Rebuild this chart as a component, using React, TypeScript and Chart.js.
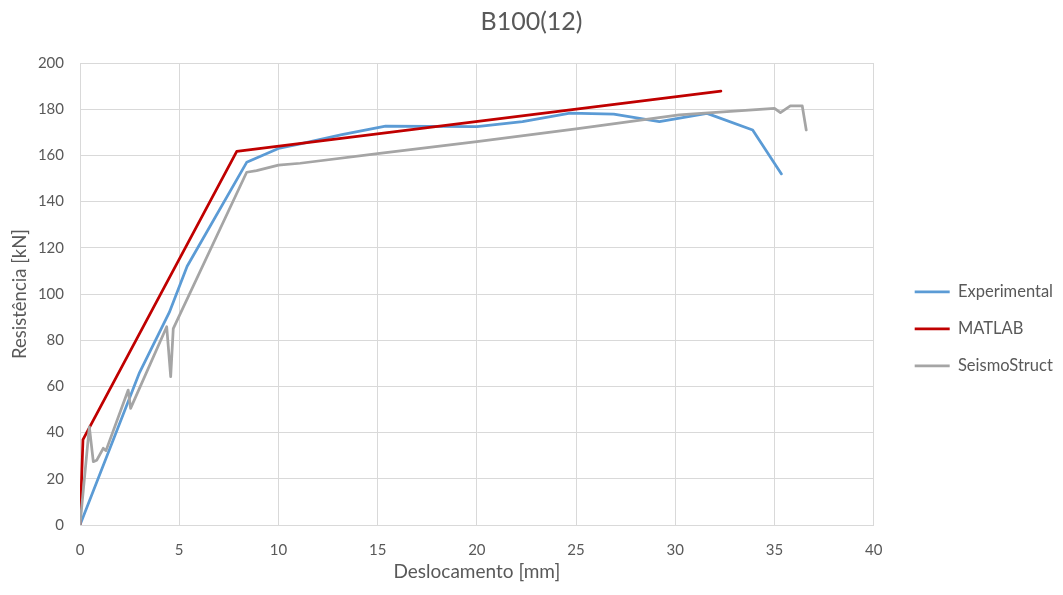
import React, { useEffect, useRef } from "react";
import { Chart, registerables } from "chart.js";

Chart.register(...registerables);

const chartTitle = "B100(12)";
const xAxisTitle = "Deslocamento [mm]";
const yAxisTitle = "Resistência [kN]";
const seriesNames = ["Experimental", "MATLAB", "SeismoStruct"];

const expX = [0, 3.0, 4.5, 5.4, 8.4, 10.0, 11.1, 13.2, 15.4, 20.0, 22.3, 24.7, 26.9, 29.2, 31.6, 33.9, 35.35];
const expY = [0, 66, 92, 112, 157, 163, 165, 169, 172.7, 172.5, 174.6, 178.3, 177.9, 174.6, 178.2, 171, 152];

const matX = [0, 0.15, 7.9, 32.3];
const matY = [0, 37, 161.7, 187.8];

const seiX = [0, 0.47, 0.67, 0.84, 1.17, 1.31, 2.43, 2.55, 4.37, 4.57, 4.7, 8.4, 8.9, 10.0, 11.1, 15.1, 20, 25, 30.2, 35.0, 35.3, 35.8, 36.4, 36.6];
const seiY = [0, 42.5, 27.4, 28, 33.2, 32.2, 58.4, 50.5, 85.8, 64.2, 85, 152.7, 153.4, 155.8, 156.6, 160.9, 166, 171.5, 177.5, 180.4, 178.5, 181.4, 181.4, 171];

const xTicks = [0, 5, 10, 15, 20, 25, 30, 35, 40];
const yTicks = [0, 20, 40, 60, 80, 100, 120, 140, 160, 180, 200];

const colors = ["#5B9BD5", "#C00000", "#A5A5A5"];

const toPts = (xs: number[], ys: number[]) => xs.map((x, i) => ({ x, y: ys[i] }));

export default function App() {
  const ref = useRef<HTMLCanvasElement | null>(null);
  useEffect(() => {
    if (!ref.current) return;
    const font = 'Lato, "Open Sans", sans-serif';
    Chart.defaults.font.family = font;
    Chart.defaults.color = "#595959";
    const series = [toPts(expX, expY), toPts(matX, matY), toPts(seiX, seiY)];
    const chart = new Chart(ref.current, {
      type: "scatter",
      data: {
        datasets: series.map((d, i) => ({
          label: seriesNames[i],
          data: d,
          showLine: true,
          borderColor: colors[i],
          backgroundColor: colors[i],
          borderWidth: 2.75,
          pointRadius: 0,
          pointHoverRadius: 0,
          tension: 0,
          borderJoinStyle: "round",
          borderCapStyle: "round",
          order: 2 - i,
        })),
      },
      options: {
        animation: false,
        responsive: true,
        maintainAspectRatio: false,
        layout: { padding: 0 },
        plugins: {
          tooltip: { enabled: false },
          title: {
            display: true,
            text: chartTitle,
            color: "#595959",
            font: { size: 25, weight: "normal" },
            padding: { top: 7, bottom: 26 },
          },
          legend: {
            position: "right",
            align: "start",
            title: { display: true, text: " ", font: { size: 10, lineHeight: 1 }, padding: { top: 253, bottom: 0 } },
            labels: {
              usePointStyle: true,
              pointStyle: "line",
              pointStyleWidth: 35,
              padding: 20.5,
              color: "#595959",
              font: { size: 16.5 },
              sort: (a: any, b: any) => a.datasetIndex - b.datasetIndex,
            },
          },
        },
        scales: {
          x: {
            type: "linear",
            min: 0,
            max: 40,
            afterBuildTicks: (s: any) => { s.ticks = xTicks.map((v) => ({ value: v })); },
            afterFit: (s: any) => { s.height = 70; },
            grid: { color: "#D9D9D9", lineWidth: 1, drawTicks: false },
            border: { display: true, color: "#D9D9D9" },
            ticks: { color: "#595959", font: { size: 15 }, padding: 16, maxRotation: 0 },
            title: { display: true, text: xAxisTitle, color: "#595959", font: { size: 19 }, padding: { top: 0, bottom: 12 } },
          },
          y: {
            type: "linear",
            min: 0,
            max: 200,
            afterBuildTicks: (s: any) => { s.ticks = yTicks.map((v) => ({ value: v })); },
            afterFit: (s: any) => { s.width = 80; },
            grid: { color: "#D9D9D9", lineWidth: 1, drawTicks: false },
            border: { display: true, color: "#D9D9D9" },
            ticks: { color: "#595959", font: { size: 15 }, padding: 16 },
            title: { display: true, text: yAxisTitle, color: "#595959", font: { size: 18.5 }, padding: { top: 9, bottom: 0 } },
          },
          yR: {
            type: "linear",
            position: "right",
            display: true,
            grid: { display: false },
            border: { display: false },
            ticks: { display: false },
            afterFit: (s: any) => { s.width = 20.5; },
          },
        },
      },
    });
    return () => chart.destroy();
  }, []);
  return (
    <div style={{ position: "fixed", left: 0, top: 0, width: 1063, height: 595, background: "#fff" }}>
      <canvas ref={ref} />
    </div>
  );
}
